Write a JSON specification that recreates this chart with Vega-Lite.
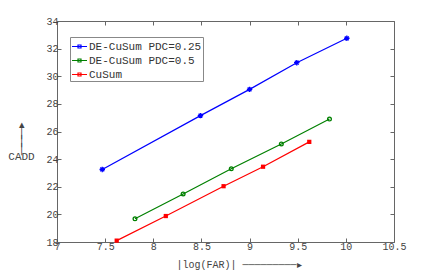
{
  "$schema": "https://vega.github.io/schema/vega-lite/v6.json",
  "width": 337,
  "height": 221,
  "autosize": {"type": "none"},
  "padding": {"left": 57, "top": 21, "right": 42, "bottom": 31},
  "background": "white",
  "config": {
    "font": "Liberation Mono",
    "view": {"stroke": "#666", "strokeWidth": 1},
    "axis": {
      "grid": false,
      "domain": false,
      "tickSize": -4,
      "tickColor": "#666",
      "labelFont": "Liberation Mono",
      "labelFontSize": 10,
      "labelColor": "#444",
      "labelPadding": 3,
      "labelFlush": false,
      "titleFont": "Liberation Mono",
      "titleFontWeight": "normal",
      "titleFontSize": 10,
      "titleColor": "#444"
    },
    "legend": {
      "orient": "none",
      "legendX": 13,
      "legendY": 16,
      "strokeColor": "#888",
      "fillColor": "white",
      "padding": 1,
      "rowPadding": 0,
      "labelFont": "Liberation Mono",
      "labelFontSize": 11,
      "labelColor": "#333",
      "labelOffset": 1,
      "symbolType": "M-1,0H1M-0.2,-0.2H0.2V0.2H-0.2Z",
      "symbolSize": 225,
      "symbolStrokeWidth": 1.2
    }
  },
  "data": {
    "values": [
      {"series": "DE-CuSum PDC=0.25", "far": 7.47, "cadd": 23.25},
      {"series": "DE-CuSum PDC=0.25", "far": 8.49, "cadd": 27.15},
      {"series": "DE-CuSum PDC=0.25", "far": 9.0, "cadd": 29.05},
      {"series": "DE-CuSum PDC=0.25", "far": 9.49, "cadd": 30.98},
      {"series": "DE-CuSum PDC=0.25", "far": 10.01, "cadd": 32.75},
      {"series": "DE-CuSum PDC=0.5", "far": 7.81, "cadd": 19.68},
      {"series": "DE-CuSum PDC=0.5", "far": 8.31, "cadd": 21.48},
      {"series": "DE-CuSum PDC=0.5", "far": 8.81, "cadd": 23.3},
      {"series": "DE-CuSum PDC=0.5", "far": 9.33, "cadd": 25.1},
      {"series": "DE-CuSum PDC=0.5", "far": 9.83, "cadd": 26.9},
      {"series": "CuSum", "far": 7.62, "cadd": 18.1},
      {"series": "CuSum", "far": 8.13, "cadd": 19.88},
      {"series": "CuSum", "far": 8.73, "cadd": 22.04},
      {"series": "CuSum", "far": 9.14, "cadd": 23.45},
      {"series": "CuSum", "far": 9.62, "cadd": 25.25}
    ]
  },
  "layer": [
    {
      "mark": {"type": "line", "strokeWidth": 1.2},
      "encoding": {
        "x": {
          "field": "far", "type": "quantitative",
          "scale": {"domain": [7, 10.5], "nice": false, "zero": false},
          "axis": {"values": [7, 7.5, 8, 8.5, 9, 9.5, 10, 10.5], "format": "~g",
                   "title": "|log(FAR)| ─────────▸", "titleAlign": "left", "titleAnchor": "start",
                   "titleX": 119, "titleY": 25, "titleBaseline": "alphabetic"}
        },
        "y": {
          "field": "cadd", "type": "quantitative",
          "scale": {"domain": [18, 34], "nice": false, "zero": false},
          "axis": {"values": [18, 20, 22, 24, 26, 28, 30, 32, 34],
                   "title": ["▴", "│", "│", "│", "CADD"], "titleAngle": 0, "titleAlign": "center",
                   "titleFontSize": 11, "titleLineHeight": 8,
                   "titleX": -36, "titleY": 106, "titleBaseline": "alphabetic"}
        },
        "color": {
          "field": "series", "type": "nominal",
          "sort": ["DE-CuSum PDC=0.25", "DE-CuSum PDC=0.5", "CuSum"],
          "scale": {"domain": ["DE-CuSum PDC=0.25", "DE-CuSum PDC=0.5", "CuSum"], "range": ["#0000ff", "#008000", "#ff0000"]},
          "legend": {"title": null}
        }
      }
    },
    {
      "transform": [{"filter": "datum.series === 'DE-CuSum PDC=0.25'"}],
      "mark": {"type": "point", "filled": false, "strokeWidth": 1.3, "size": 30, "opacity": 1, "color": "#0000ff",
               "shape": "M-1,0H1M0,-1V1M-0.7,-0.7L0.7,0.7M-0.7,0.7L0.7,-0.7"},
      "encoding": {
        "x": {"field": "far", "type": "quantitative", "axis": null},
        "y": {"field": "cadd", "type": "quantitative", "axis": null}
      }
    },
    {
      "transform": [{"filter": "datum.series === 'DE-CuSum PDC=0.5'"}],
      "mark": {"type": "point", "filled": false, "strokeWidth": 1.3, "size": 14, "opacity": 1, "color": "#008000", "shape": "circle"},
      "encoding": {
        "x": {"field": "far", "type": "quantitative", "axis": null},
        "y": {"field": "cadd", "type": "quantitative", "axis": null}
      }
    },
    {
      "transform": [{"filter": "datum.series === 'CuSum'"}],
      "mark": {"type": "point", "filled": true, "size": 18, "opacity": 1, "color": "#ff0000", "shape": "square"},
      "encoding": {
        "x": {"field": "far", "type": "quantitative", "axis": null},
        "y": {"field": "cadd", "type": "quantitative", "axis": null}
      }
    },
    {
      "mark": {"type": "line", "opacity": 0},
      "encoding": {
        "x": {"field": "far", "type": "quantitative",
              "axis": {"orient": "top", "labels": false, "title": null, "values": [7, 7.5, 8, 8.5, 9, 9.5, 10, 10.5]}},
        "y": {"field": "cadd", "type": "quantitative",
              "axis": {"orient": "right", "labels": false, "title": null, "values": [18, 20, 22, 24, 26, 28, 30, 32, 34]}},
        "detail": {"field": "series"}
      }
    }
  ],
  "resolve": {"axis": {"x": "independent", "y": "independent"}}
}
